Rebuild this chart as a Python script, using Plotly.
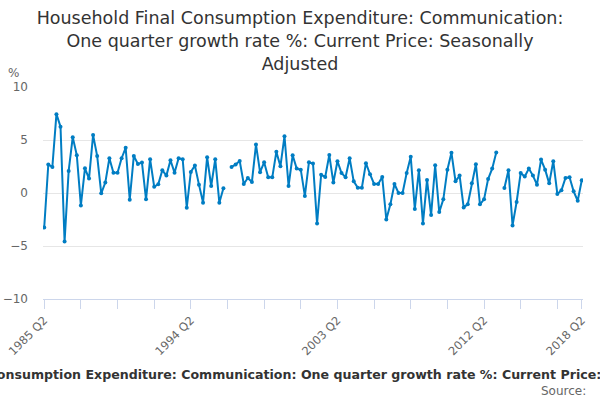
import plotly.graph_objects as go

# quarterly growth rate %, 1985 Q2 .. 2018 Q2 (None = no value)
quarters = [f"{1985 + (i + 1) // 4} Q{(i + 1) % 4 + 1}" for i in range(133)]

growth = [
    -3.25, 2.68, 2.46, 7.44, 6.25, -4.57, 2.08, 5.27, 3.56, -1.17,
    2.33, 1.36, 5.46, 3.5, -0.03, 0.98, 3.28, 1.92, 1.92, 3.28,
    4.26, -0.63, 3.5, 2.74, 2.87, -0.6, 3.19, 0.6, 0.82, 2.15,
    1.64, 3.09, 1.92, 3.28, 3.19, -1.39, 1.99, 2.59, 0.79, -0.91,
    3.38, 0.66, 3.19, -0.91, 0.44, None, 2.46, 2.68, 3.03, 0.85,
    1.42, 1.04, 4.57, 1.96, 2.9, 1.48, 1.48, 3.88, 2.52, 5.36,
    0.66, 3.56, 2.3, 2.2, -0.28, 2.9, 2.78, -2.87, 1.72, 1.51,
    3.58, 0.98, 3.0, 1.89, 1.48, 3.28, 1.1, 0.5, 0.5, 2.81,
    1.77, 0.85, 0.85, 1.51, -2.49, -1.07, 0.85, 0.0, 0.0, 1.89,
    3.41, -1.51, 2.15, -2.87, 1.23, -2.08, 2.62, -1.8, -0.6, 2.2,
    3.79, 1.1, 1.64, -1.36, -1.07, 0.91, 2.71, -1.07, -0.6, 1.32,
    2.3, 3.82, None, 0.47, 2.15, -3.06, -0.85, 1.89, 1.55, 2.3,
    1.64, 0.79, 3.15, 2.2, 0.91, 3.0, -0.09, 0.25, 1.42, 1.48,
    0.16, -0.73, 1.2,
]

tick_idx = list(range(0, 132, 9)) + [132]
tick_text = [quarters[i] if i in (0, 36, 72, 108, 132) else "" for i in tick_idx]

full_title = ("Household Final Consumption Expenditure: Communication: "
              "One quarter growth rate %: Current Price: Seasonally Adjusted")

fig = go.Figure(go.Scatter(
    x=list(range(len(growth))),
    y=growth,
    mode="lines+markers",
    line=dict(color="#007dc3", width=2),
    marker=dict(color="#007dc3", size=4),
    connectgaps=False,
    text=quarters,
    hovertemplate="%{text}: %{y}<extra></extra>",
))

fig.update_layout(
    width=600, height=400,
    margin=dict(l=43, r=17, t=87, b=101),
    paper_bgcolor="white", plot_bgcolor="white",
    font=dict(family="DejaVu Sans", color="#666666"),
    showlegend=False,
    title=dict(
        text="Household Final Consumption Expenditure: Communication:<br>"
             "One quarter growth rate %: Current Price: Seasonally<br>Adjusted",
        x=0.5, xanchor="center", y=0.94, yanchor="middle",
        font=dict(size=17.5, color="#333333"),
    ),
)

fig.update_xaxes(
    range=[-0.3, 132.3], automargin=False,
    tickvals=tick_idx, ticktext=tick_text, tickangle=-45,
    tickfont=dict(size=11.5, color="#666666"),
    showgrid=False, zeroline=False,
    showline=True, linecolor="#ccd6eb", linewidth=1,
    ticks="outside", ticklen=9, tickcolor="#ccd6eb",
)
fig.update_yaxes(
    range=[-10, 10], tickvals=[-10, -5, 0, 5, 10], automargin=False,
    tickfont=dict(size=12, color="#666666"),
    showgrid=True, gridcolor="#e6e6e6", zeroline=False,
    ticks="", ticklabelstandoff=14,
)

fig.add_annotation(text="%", xref="paper", yref="paper", x=-0.054, y=1.066,
                   xanchor="center", yanchor="middle", showarrow=False,
                   font=dict(size=12, color="#666666"))
fig.add_annotation(text="<b>" + full_title + "</b>", xref="paper", yref="paper",
                   x=(309 - 43) / 540, y=-0.354, xanchor="center", yanchor="middle",
                   showarrow=False, font=dict(size=12.6, color="#333333"))
fig.add_annotation(text="Source:", xref="paper", yref="paper",
                   x=(588 - 43) / 540, y=-0.434, xanchor="right", yanchor="middle",
                   showarrow=False, font=dict(size=12, color="#666666"))

fig.write_html("out.html", config={"displayModeBar": False},
               post_script="document.body.style.margin='0';")
